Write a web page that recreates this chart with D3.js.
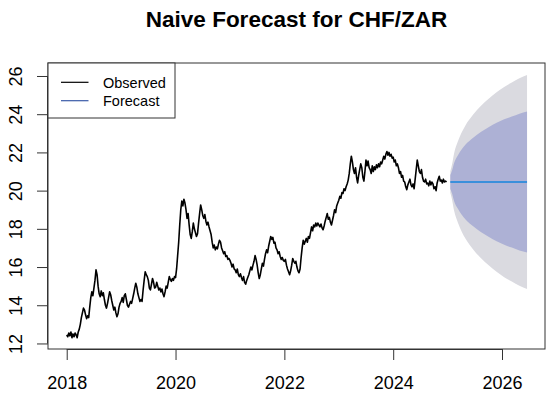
<!DOCTYPE html>
<html>
<head>
<meta charset="utf-8">
<script src="https://cdn.jsdelivr.net/npm/d3@7"></script>
<style>
  html, body { margin: 0; padding: 0; background: #fff; }
  svg { display: block; }
  text { font-family: "Liberation Sans", Arial, Helvetica, sans-serif; }
</style>
</head>
<body>
<svg id="chart" width="550" height="398"></svg>
<script>
// ---------- DATA ----------
const title = "Naive Forecast for CHF/ZAR";
const startYear = 2018;
const weeksPerYear = 52;
const obs2018 = [12.45,12.35,12.55,12.40,12.60,12.30,12.50,12.35,12.55,12.45,12.30,12.60,
  12.75,13.0,13.35,13.6,13.85,13.75, 13.5,13.3,13.45,13.35, 13.9,14.4,14.7,14.5,
  14.9,15.3,15.85,15.6, 15.0,14.6,14.45, 14.75,14.5,14.65, 14.3,14.0,13.85,14.1,
  14.4,14.7,14.55,14.25, 14.0,13.75,13.9,13.6,13.4,13.55, 13.9,14.1];
const obs2019 = [14.2,14.4,14.15,14.5,14.6, 14.3,14.0,13.9,14.05, 14.2,14.1,14.35,14.6,14.9,15.15,14.95,
  14.6,14.4,14.2,14.3,14.2, 14.8,15.3,15.75,15.6, 15.5,15.3,14.9,14.8,15.1,
  15.4,15.2,14.9,14.95,15.2, 15.0,14.8,14.9,14.7,14.85, 14.6,14.45,14.7,15.0,14.9,
  15.2,15.5,15.35,15.25,15.4, 15.3,15.5];
const obs2020 = [15.45,15.9,16.6, 17.3,18.2,19.0, 19.45,19.2,19.55,19.35, 19.0,18.55,18.8,
  18.2,17.7,17.5,17.85, 18.3,18.0, 17.8,17.6,17.75, 18.3,18.8,19.25,19.0, 18.7,18.55,18.75,
  18.4,18.2,18.35,18.1,17.9, 17.7,17.3,17.0,17.15, 16.9,17.05,16.95, 17.2,17.4,17.3,17.0,16.85,
  16.7,16.8,16.55,16.6,16.4,16.45];
const obs2021 = [16.35,16.2,16.0,16.15,15.9,15.85, 15.7,15.9,15.6,15.5,15.65, 15.45,15.3,15.5,15.2,15.1,
  15.3,15.45,15.6, 15.8,16.0,15.85,16.1, 16.3,16.6,16.4,16.1, 15.7,15.4,15.6, 15.9,16.2,16.05,16.4,
  16.7,16.9,16.75,17.1, 17.35,17.6,17.45,17.55, 17.25,17.3,17.0,16.9, 16.7,16.8,16.55,16.4,16.5,16.35];
const obs2022 = [16.3,16.4,16.1, 15.9,15.75,15.6,15.8, 16.1,16.45,16.3,16.2, 16.3,16.0,15.8,15.7,15.9,16.5,
  17.0,17.4,17.2,17.35, 17.5,17.3,17.6,17.5, 17.8,18.1,17.9,18.2,18.1, 18.3,18.15,18.3,18.2,
  18.1,18.25,18.05,17.95,18.15, 18.4,18.6,18.8,18.5,18.6, 18.35,18.2,18.45, 18.7,19.0,18.85,19.2,19.35];
const obs2023 = [19.5,19.7,19.6,19.9, 19.85,20.1,20.0,20.2, 20.35,20.55,20.9, 21.4,21.8,21.5,
  21.1,20.9,21.2, 20.7,20.4,20.8, 21.1,21.4,21.2, 20.7,20.5, 21.0,21.6,21.3,21.55, 21.2,21.1,20.9,
  21.3,21.0,21.25,21.1,21.35, 21.2,21.4,21.25,21.5,21.4, 21.6,21.8,21.65, 21.9,22.05,21.85,22.0,
  21.8,21.9,21.7];
const obs2024 = [21.75,21.5,21.6, 21.3,21.4,21.2, 20.9,21.0,20.7, 20.8,20.5,20.45, 20.2,20.05,20.3,
  20.45,20.6,20.3, 20.2,20.35,20.1,20.6, 21.1,21.6,21.3,21.0, 20.9,21.1,20.7, 20.5,20.45,20.6,20.35,
  20.4,20.25,20.5, 20.3,20.45,20.35, 20.1,20.2,20.0,20.4, 20.6,20.75,20.5, 20.55,20.4,20.6,
  20.45,20.5,20.45];
const observed = [].concat(obs2018, obs2019, obs2020, obs2021, obs2022, obs2023, obs2024);

const fcYears = [2025.05,2025.08,2025.12,2025.19,2025.33,2025.47,2025.61,2025.76,2025.90,2026.04,2026.18,2026.32,2026.46];
const fcMean  = [20.45,20.45,20.45,20.45,20.45,20.45,20.45,20.45,20.45,20.45,20.45,20.45,20.45];
const hi95 = [21.01,21.35,21.96,22.58,23.42,23.98,24.43,24.82,25.15,25.43,25.66,25.88,26.05];
const lo95 = [19.89,19.55,18.94,18.32,17.48,16.92,16.47,16.08,15.75,15.47,15.24,15.02,14.85];
const hi80 = [20.82,21.04,21.45,21.85,22.41,22.77,23.07,23.33,23.55,23.73,23.88,24.03,24.14];
const lo80 = [20.08,19.86,19.45,19.05,18.49,18.13,17.83,17.57,17.35,17.17,17.02,16.87,16.76];

const xTicks = [2018, 2020, 2022, 2024, 2026];
const yTicks = [12, 14, 16, 18, 20, 22, 24, 26];
const legendLabels = ["Observed", "Forecast"];

// ---------- LAYOUT ----------
const svg = d3.select("#chart");
const plot = { left: 48, right: 545, top: 63, bottom: 349 };
const x = d3.scaleLinear().domain([2017.656, 2026.79]).range([plot.left, plot.right]);
const y = d3.scaleLinear().domain([11.71, 26.68]).range([plot.bottom, plot.top]);

const obsData = observed.map((v, i) => ({ t: startYear + i / weeksPerYear, v }));
const fcData = fcYears.map((t, i) => ({ t, m: fcMean[i], l80: lo80[i], h80: hi80[i], l95: lo95[i], h95: hi95[i] }));

// bands
svg.append("path").datum(fcData)
  .attr("d", d3.area().x(d => x(d.t)).y0(d => y(d.l95)).y1(d => y(d.h95)).curve(d3.curveMonotoneX))
  .attr("fill", "#dadae0");
svg.append("path").datum(fcData)
  .attr("d", d3.area().x(d => x(d.t)).y0(d => y(d.l80)).y1(d => y(d.h80)).curve(d3.curveMonotoneX))
  .attr("fill", "#adb1d5");

// observed line
svg.append("path").datum(obsData)
  .attr("d", d3.line().x(d => x(d.t)).y(d => y(d.v)))
  .attr("fill", "none").attr("stroke", "#000").attr("stroke-width", 1.6)
  .attr("stroke-linejoin", "round");

// forecast line
svg.append("path").datum(fcData)
  .attr("d", d3.line().x(d => x(d.t)).y(d => y(d.m)))
  .attr("fill", "none").attr("stroke", "#3a8fdb").attr("stroke-width", 2);

// box
svg.append("rect")
  .attr("x", plot.left).attr("y", plot.top)
  .attr("width", plot.right - plot.left).attr("height", plot.bottom - plot.top)
  .attr("fill", "none").attr("stroke", "#333").attr("stroke-width", 1);

// x axis
const xAxis = d3.axisBottom(x).tickValues(xTicks).tickFormat(d3.format("d")).tickSize(11).tickPadding(16);
const gx = svg.append("g").attr("transform", `translate(0,${plot.bottom})`).call(xAxis);
gx.select(".domain").attr("d", `M${x(xTicks[0])},0.5H${x(xTicks[xTicks.length-1])}`).attr("stroke", "#333");
gx.selectAll(".tick line").attr("stroke", "#333");
gx.selectAll(".tick text").attr("font-size", 18).attr("fill", "#000")
  .attr("font-family", "'Liberation Sans', Arial, sans-serif");

// y axis
const yAxis = d3.axisLeft(y).tickValues(yTicks).tickFormat(d3.format("d")).tickSize(11);
const gy = svg.append("g").attr("transform", `translate(${plot.left},0)`).call(yAxis);
gy.select(".domain").attr("d", `M-0.5,${y(yTicks[0])}V${y(yTicks[yTicks.length-1])}`).attr("stroke", "#333");
gy.selectAll(".tick line").attr("stroke", "#333");
gy.selectAll(".tick text").remove();
gy.selectAll(".tick").append("text")
  .attr("transform", "translate(-26.5,0) rotate(-90)")
  .attr("text-anchor", "middle")
  .attr("font-size", 18).attr("fill", "#000")
  .attr("font-family", "'Liberation Sans', Arial, sans-serif")
  .text(d => d3.format("d")(d));

// title
svg.append("text")
  .attr("x", (plot.left + plot.right) / 2).attr("y", 26.5)
  .attr("text-anchor", "middle").attr("font-size", 22.5).attr("font-weight", "bold")
  .attr("fill", "#000").text(title);

// legend
const lg = svg.append("g");
lg.append("rect").attr("x", plot.left).attr("y", plot.top)
  .attr("width", 127).attr("height", 55)
  .attr("fill", "#fff").attr("stroke", "#333").attr("stroke-width", 1);
const legendColors = ["#000", "#3a5ba8"];
legendLabels.forEach((lab, i) => {
  const ly = 82.3 + i * 18.4;
  lg.append("line").attr("x1", 61).attr("x2", 88.5).attr("y1", ly).attr("y2", ly)
    .attr("stroke", legendColors[i]).attr("stroke-width", 1.2);
  lg.append("text").attr("x", 103).attr("y", ly + 5.2)
    .attr("font-size", 14.5).attr("fill", "#000").text(lab);
});
</script>
</body>
</html>
